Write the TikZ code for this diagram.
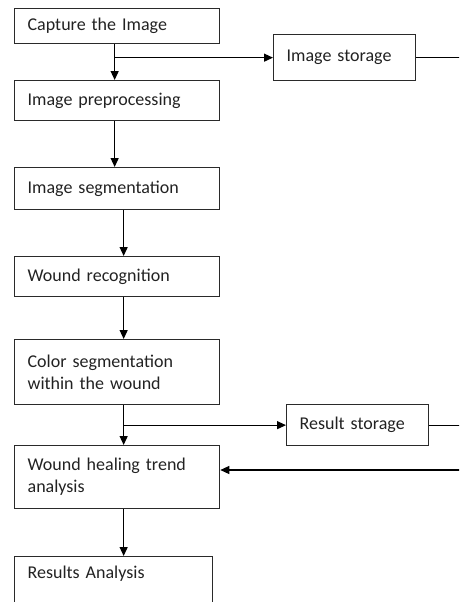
\documentclass[tikz,border=0pt]{standalone}
\usepackage{fontspec}
\setmainfont{Carlito}
\usepackage{xcolor}
\usetikzlibrary{positioning, arrows.meta, calc}
\definecolor{boxline}{HTML}{2A2A2A}
\definecolor{inktext}{HTML}{222222}

\begin{document}
\begin{tikzpicture}[x=1pt, y=-1pt,
    stage/.style={draw=boxline, line width=1.3pt, anchor=north west,
          inner xsep=13pt, inner ysep=3pt, text width=179pt, align=left,
          font=\fontsize{18}{22}\selectfont, text=inktext},
    store/.style={stage, text width=116pt},
    flow/.style={-{Triangle[length=9pt, width=8pt]}, line width=1.2pt},
    feed/.style={line width=0.9pt}]
  \useasboundingbox (0,0) rectangle (459,602);
  \clip (0,0) rectangle (459,602);

  % main column
  \node[stage, minimum height=35pt] (capture) at (14,8) {Capture the Image};
  \node[stage, minimum height=40pt] (preproc) at (14,80) {Image preprocessing};
  \node[stage, minimum height=42pt] (segment) at (14,167) {Image segmentation};
  \node[stage, minimum height=40pt] (recog) at (14,256) {Wound recognition};
  \node[stage, minimum height=65pt] (colorseg) at (14,339) {Color segmentation\\within the wound};
  \node[stage, minimum height=63pt] (trend) at (14,445) {Wound healing trend\\analysis};
  \node[stage, text width=172pt, inner ysep=9pt, text depth=40pt] (results) at (14,556) {Results Analysis};

  % storage boxes
  \node[store, minimum height=46pt] (imgstore) at (273,34) {Image storage};
  \node[store, minimum height=41pt] (resstore) at (286,404) {Result storage};

  % free ends at the right edge
  \coordinate (imgout) at (465,57);
  \coordinate (resout) at (465,423);
  \coordinate (trendin) at (465,470);

  % vertical flow
  \draw[flow] ([xshift=-2.5pt]capture.south) -- ([xshift=-2.5pt]preproc.north);
  \draw[flow] ([xshift=-2.5pt]preproc.south) -- ([xshift=-2.5pt]segment.north);
  \draw[flow] ([xshift=6.5pt]segment.south) -- ([xshift=6.5pt]recog.north);
  \draw[flow] ([xshift=6.5pt]recog.south) -- ([xshift=6.5pt]colorseg.north);
  \draw[flow] ([xshift=6.5pt]colorseg.south) -- ([xshift=6.5pt]trend.north);
  \draw[flow] ([xshift=6.5pt]trend.south) -- ([xshift=6.5pt]trend.south |- results.north);

  % branches to storage
  \draw[flow] ([xshift=-2.5pt]capture.south |- imgstore.west) -- (imgstore.west);
  \draw[flow] ([xshift=6.5pt]colorseg.south |- resstore.west) -- (resstore.west);
  \draw[feed] (imgstore.east) -- (imgstore.east -| imgout);
  \draw[feed] (resstore.east) -- (resstore.east -| resout);
  \draw[flow] (trendin) -- (trendin -| trend.east);
\end{tikzpicture}
\end{document}
